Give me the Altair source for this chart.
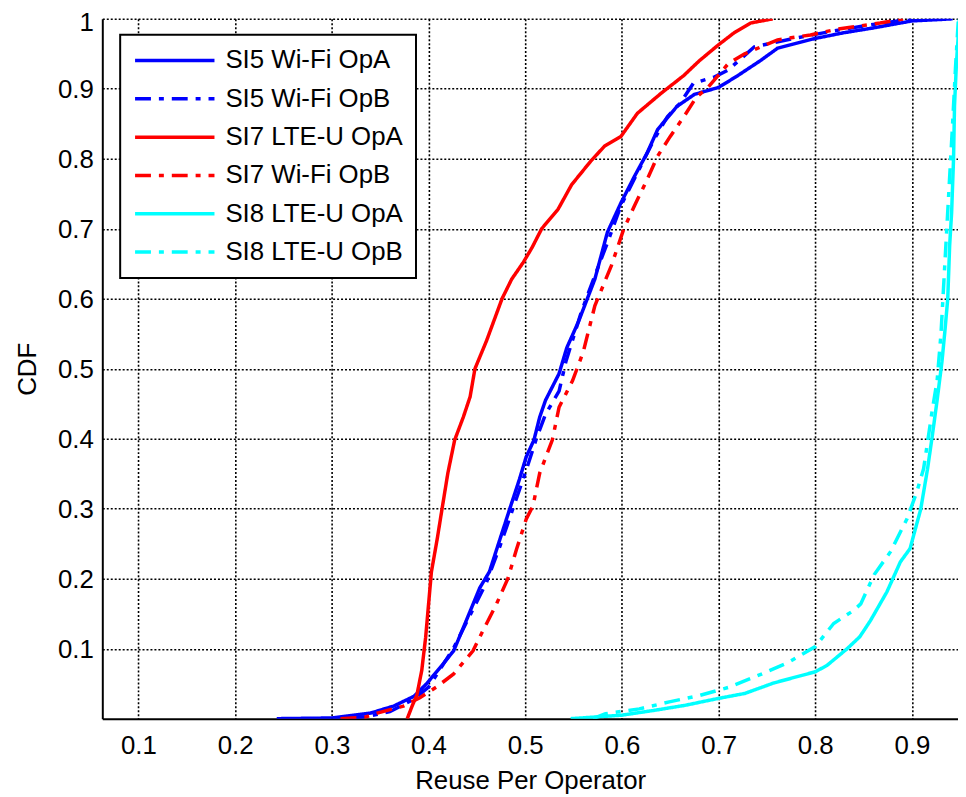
import altair as alt
import pandas as pd

SERIES = ["SI5 Wi-Fi OpA", "SI5 Wi-Fi OpB", "SI7 LTE-U OpA",
          "SI7 Wi-Fi OpB", "SI8 LTE-U OpA", "SI8 LTE-U OpB"]
COLORS = ["#0000ff", "#0000ff", "#ff0000", "#ff0000", "#00ffff", "#00ffff"]
DASHES = [[1, 0], [16, 8, 5, 8], [1, 0], [16, 8, 5, 8], [1, 0], [16, 8, 5, 8]]

X_TICKS = [0.1, 0.2, 0.3, 0.4, 0.5, 0.6, 0.7, 0.8, 0.9]
Y_TICKS = [0.1, 0.2, 0.3, 0.4, 0.5, 0.6, 0.7, 0.8, 0.9, 1.0]

# SI5 Wi-Fi OpA (blue solid)
si5a_x = [0.243, 0.300, 0.340, 0.364, 0.385, 0.398, 0.412, 0.426, 0.439, 0.453,
          0.463, 0.474, 0.485, 0.494, 0.501, 0.509, 0.515, 0.521, 0.535, 0.543,
          0.555, 0.572, 0.585, 0.599, 0.613, 0.626, 0.637, 0.657, 0.675, 0.700,
          0.720, 0.744, 0.761, 0.800, 0.829, 0.860, 0.900, 0.942]
si5a_y = [0.000, 0.001, 0.008, 0.018, 0.032, 0.050, 0.073, 0.097, 0.140, 0.187,
          0.210, 0.257, 0.304, 0.342, 0.374, 0.398, 0.431, 0.455, 0.493, 0.530,
          0.567, 0.628, 0.695, 0.737, 0.775, 0.808, 0.842, 0.875, 0.892, 0.902,
          0.919, 0.941, 0.958, 0.972, 0.980, 0.987, 0.997, 1.000]

# SI5 Wi-Fi OpB (blue dash-dot)
si5b_x = [0.318, 0.340, 0.360, 0.385, 0.400, 0.409, 0.426, 0.443, 0.460, 0.474,
          0.487, 0.501, 0.511, 0.521, 0.535, 0.542, 0.558, 0.572, 0.585, 0.599,
          0.616, 0.633, 0.647, 0.660, 0.674, 0.696, 0.710, 0.737, 0.778, 0.820,
          0.860, 0.900]
si5b_y = [0.000, 0.004, 0.010, 0.028, 0.045, 0.064, 0.101, 0.148, 0.195, 0.247,
          0.299, 0.355, 0.398, 0.435, 0.468, 0.510, 0.581, 0.633, 0.680, 0.733,
          0.780, 0.827, 0.860, 0.879, 0.908, 0.917, 0.927, 0.960, 0.972, 0.983,
          0.992, 1.000]

# SI7 LTE-U OpA (red solid)
si7a_x = [0.378, 0.383, 0.388, 0.393, 0.397, 0.400, 0.403, 0.409, 0.414, 0.420,
          0.427, 0.436, 0.443, 0.448, 0.460, 0.476, 0.486, 0.498, 0.507, 0.517,
          0.534, 0.548, 0.568, 0.582, 0.599, 0.616, 0.640, 0.664, 0.680, 0.700,
          0.716, 0.733, 0.756]
si7a_y = [0.000, 0.018, 0.034, 0.069, 0.116, 0.163, 0.210, 0.257, 0.300, 0.351,
          0.398, 0.431, 0.460, 0.500, 0.540, 0.600, 0.628, 0.652, 0.673, 0.700,
          0.728, 0.763, 0.797, 0.818, 0.832, 0.865, 0.893, 0.919, 0.940, 0.963,
          0.980, 0.994, 1.000]

# SI7 Wi-Fi OpB (red dash-dot)
si7b_x = [0.309, 0.334, 0.347, 0.374, 0.391, 0.409, 0.426, 0.446, 0.456, 0.470,
          0.482, 0.491, 0.501, 0.508, 0.515, 0.528, 0.535, 0.549, 0.560, 0.572,
          0.589, 0.602, 0.613, 0.626, 0.637, 0.650, 0.664, 0.677, 0.689, 0.710,
          0.727, 0.744, 0.761, 0.795, 0.822, 0.867, 0.892]
si7b_y = [0.000, 0.002, 0.008, 0.018, 0.030, 0.046, 0.064, 0.097, 0.125, 0.163,
          0.200, 0.242, 0.285, 0.304, 0.351, 0.398, 0.445, 0.483, 0.524, 0.590,
          0.647, 0.700, 0.733, 0.770, 0.804, 0.832, 0.860, 0.888, 0.902, 0.936,
          0.950, 0.960, 0.970, 0.977, 0.985, 0.994, 1.000]

# SI8 LTE-U OpA (cyan solid)
si8a_x = [0.547, 0.600, 0.634, 0.665, 0.700, 0.727, 0.757, 0.800, 0.812, 0.833,
          0.846, 0.857, 0.874, 0.888, 0.898, 0.909, 0.916, 0.921, 0.926, 0.931,
          0.934, 0.937, 0.939, 0.941, 0.943, 0.944, 0.946, 0.949]
si8a_y = [0.000, 0.005, 0.012, 0.019, 0.029, 0.036, 0.051, 0.067, 0.076, 0.100,
          0.117, 0.140, 0.181, 0.224, 0.243, 0.299, 0.356, 0.404, 0.455, 0.510,
          0.553, 0.600, 0.677, 0.723, 0.800, 0.876, 0.937, 1.000]

# SI8 LTE-U OpB (cyan dash-dot)
si8b_x = [0.570, 0.583, 0.618, 0.649, 0.680, 0.711, 0.745, 0.773, 0.800, 0.819,
          0.840, 0.847, 0.861, 0.878, 0.895, 0.905, 0.912, 0.916, 0.921, 0.926,
          0.930, 0.934, 0.938, 0.942, 0.945, 0.948]
si8b_y = [0.000, 0.007, 0.014, 0.024, 0.033, 0.045, 0.064, 0.081, 0.103, 0.136,
          0.155, 0.164, 0.206, 0.239, 0.286, 0.324, 0.357, 0.394, 0.441, 0.483,
          0.550, 0.650, 0.750, 0.850, 0.930, 1.000]

curves = [(si5a_x, si5a_y), (si5b_x, si5b_y), (si7a_x, si7a_y),
          (si7b_x, si7b_y), (si8a_x, si8a_y), (si8b_x, si8b_y)]

rows = []
for name, (xs, ys) in zip(SERIES, curves):
    for i, (xv, yv) in enumerate(zip(xs, ys)):
        rows.append({"series": name, "x": xv, "y": yv, "idx": i})
df = pd.DataFrame(rows)

FONT = "Liberation Sans"
FS = 26

legend_kw = dict(
    orient="none", legendX=18, legendY=16, title=None,
    symbolType="stroke", symbolSize=6400, symbolStrokeWidth=3.5,
    clipHeight=26, rowPadding=12.6, padding=13,
    labelFont=FONT, labelFontSize=FS, labelColor="black", labelOffset=9,
    labelLimit=500, strokeColor="black", fillColor="white",
)

axis_common = dict(
    labelFont=FONT, labelFontSize=FS, labelColor="black",
    titleFont=FONT, titleFontSize=FS, titleFontWeight="normal", titleColor="black",
    domainColor="black", domainWidth=2, ticks=False,
    grid=True, gridColor="black", gridDash=[2, 2], gridWidth=1.6, gridOpacity=1,
    labelOverlap=False, labelFlush=False,
)


def build(y_label_offset):
    return alt.Chart(df).mark_line(strokeWidth=3.5, clip=True).encode(
        x=alt.X("x:Q", title="Reuse Per Operator",
                scale=alt.Scale(domain=[0.0626, 0.9476], nice=False, zero=False),
                axis=alt.Axis(values=X_TICKS, format=".1f", labelPadding=14,
                              titlePadding=9, **axis_common)),
        y=alt.Y("y:Q", title="CDF",
                scale=alt.Scale(domain=[0, 1], nice=False, zero=False),
                axis=alt.Axis(values=Y_TICKS, labelPadding=9, titlePadding=17,
                              labelOffset=y_label_offset,
                              labelExpr="datum.value == 1 ? '1' : format(datum.value, '.1f')",
                              **axis_common)),
        color=alt.Color("series:N", scale=alt.Scale(domain=SERIES, range=COLORS),
                        legend=alt.Legend(**legend_kw)),
        strokeDash=alt.StrokeDash("series:N", scale=alt.Scale(domain=SERIES, range=DASHES),
                                  legend=alt.Legend(**legend_kw)),
        order="idx:Q",
    ).properties(
        width=862, height=705,
        padding={"left": 95, "top": 8, "right": 0, "bottom": 76},
        autosize=alt.AutoSizeParams(type="none"),
    ).configure_view(stroke=None)


try:
    base = build({"condition": {"test": "datum.value == 1", "value": 4}, "value": 1})
    base.to_dict()
except Exception:
    base = build(1)

chart = base
try:
    trial = base.configure_legend(strokeWidth=2)
    trial.to_dict()
    chart = trial
except Exception:
    chart = base

chart.save("out.html", embed_options={"renderer": "svg", "actions": False})
